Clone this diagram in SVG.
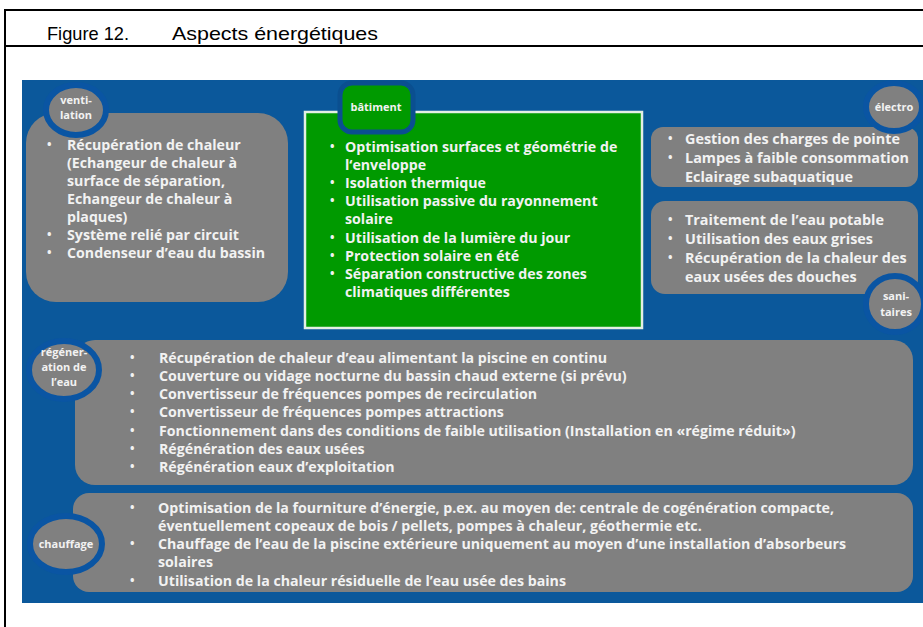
<svg xmlns="http://www.w3.org/2000/svg" width="923" height="627" viewBox="0 0 923 627">
<style>
.frame{stroke:#000;stroke-width:2;fill:none}
.title{font-family:"Liberation Sans",Arial,sans-serif;font-size:18.5px;fill:#000}
.panel{fill:#0b589b}
.box{fill:#808080}
.bubble{fill:#808080;stroke:#0a55a3;stroke-width:6}
.green{fill:#009a00;stroke:#e4efe4;stroke-width:2.5}
.tab{fill:#009a00;stroke:#0a4f90;stroke-width:5}
.t{font-family:"Open Sans","DejaVu Sans",sans-serif;font-weight:bold;font-size:14.2px;fill:#f2f2f2}
.te{font-family:"Open Sans","DejaVu Sans",sans-serif;font-weight:bold;font-size:14.4px;fill:#f2f2f2}
.b{font-family:"Open Sans","DejaVu Sans",sans-serif;font-weight:bold;font-size:12px;fill:#f2f2f2}
.lbl{font-family:"Open Sans","DejaVu Sans",sans-serif;font-weight:bold;font-size:11px;fill:#f2f2f2;text-anchor:middle}
</style>
<rect width="923" height="627" fill="#fff"/>
<g id="frame">
<line class="frame" x1="5" y1="10" x2="923" y2="10"/>
<line class="frame" x1="5" y1="46" x2="923" y2="46"/>
<line class="frame" x1="5" y1="9" x2="5" y2="627"/>
<text class="title" x="47" y="40" textLength="82" lengthAdjust="spacingAndGlyphs">Figure 12.</text>
<text class="title" x="172" y="40" textLength="206" lengthAdjust="spacingAndGlyphs">Aspects énergétiques</text>
</g>
<rect class="panel" x="22" y="80" width="901" height="523"/>
<g id="connectors"></g>

<g id="ventilation">
<rect class="box" x="26" y="113" width="262" height="189" rx="30"/>
<ellipse class="bubble" cx="76" cy="110" rx="30" ry="25"/>
<text class="lbl" x="76" y="104">venti-</text>
<text class="lbl" x="76" y="119">lation</text>
<text class="b" x="47" y="149">•</text><text class="t" x="67" y="150">Récupération de chaleur</text>
<text class="t" x="67" y="168">(Echangeur de chaleur à</text>
<text class="t" x="67" y="186">surface de séparation,</text>
<text class="t" x="67" y="204">Echangeur de chaleur à</text>
<text class="t" x="67" y="222">plaques)</text>
<text class="b" x="47" y="239">•</text><text class="t" x="67" y="240">Système relié par circuit</text>
<text class="b" x="47" y="257">•</text><text class="t" x="67" y="258">Condenseur d’eau du bassin</text>
</g>

<g id="batiment">
<rect class="green" x="305" y="112" width="337" height="216"/>
<rect class="tab" x="340" y="83" width="73" height="49" rx="12"/>
<text class="lbl" x="376" y="111">bâtiment</text>
<text class="b" x="330" y="151">•</text><text class="t" x="345" y="152">Optimisation surfaces et géométrie de</text>
<text class="t" x="345" y="170">l‘enveloppe</text>
<text class="b" x="330" y="187">•</text><text class="t" x="345" y="188">Isolation thermique</text>
<text class="b" x="330" y="205">•</text><text class="t" x="345" y="206">Utilisation passive du rayonnement</text>
<text class="t" x="345" y="224">solaire</text>
<text class="b" x="330" y="242">•</text><text class="t" x="345" y="243">Utilisation de la lumière du jour</text>
<text class="b" x="330" y="260">•</text><text class="t" x="345" y="261">Protection solaire en été</text>
<text class="b" x="330" y="278">•</text><text class="t" x="345" y="279">Séparation constructive des zones</text>
<text class="t" x="345" y="297">climatiques différentes</text>
</g>

<g id="electro">
<rect class="box" x="651" y="127" width="267" height="60" rx="12"/>
<ellipse class="bubble" cx="894" cy="107" rx="28" ry="24"/>
<text class="lbl" x="894" y="111">électro</text>
<text class="b" x="668" y="143">•</text><text class="te" x="685" y="144">Gestion des charges de pointe</text>
<text class="b" x="668" y="162">•</text><text class="te" x="685" y="163">Lampes à faible consommation</text>
<text class="te" x="685" y="182">Eclairage subaquatique</text>
</g>

<g id="sanitaires">
<rect class="box" x="651" y="201" width="267" height="93" rx="14"/>
<ellipse class="bubble" cx="895" cy="304" rx="29" ry="28"/>
<text class="lbl" x="896" y="300">sani-</text>
<text class="lbl" x="896" y="316">taires</text>
<text class="b" x="668" y="224">•</text><text class="te" x="685" y="225">Traitement de l’eau potable</text>
<text class="b" x="668" y="243">•</text><text class="te" x="685" y="244">Utilisation des eaux grises</text>
<text class="b" x="668" y="262">•</text><text class="te" x="685" y="263">Récupération de la chaleur des</text>
<text class="te" x="685" y="282">eaux usées des douches</text>
</g>

<g id="regeneration">
<rect class="box" x="75" y="340" width="838" height="145" rx="20"/>
<ellipse class="bubble" cx="64" cy="370" rx="35" ry="29"/>
<text class="lbl" x="64" y="356">régéner-</text>
<text class="lbl" x="64" y="371">ation de</text>
<text class="lbl" x="64" y="386">l’eau</text>
<text class="b" x="130" y="362">•</text><text class="t" x="159" y="363">Récupération de chaleur d’eau alimentant la piscine en continu</text>
<text class="b" x="130" y="380">•</text><text class="t" x="159" y="381">Couverture ou vidage nocturne du bassin chaud externe (si prévu)</text>
<text class="b" x="130" y="398">•</text><text class="t" x="159" y="399">Convertisseur de fréquences  pompes de recirculation</text>
<text class="b" x="130" y="416">•</text><text class="t" x="159" y="417">Convertisseur de fréquences  pompes attractions</text>
<text class="b" x="130" y="435">•</text><text class="t" x="159" y="436">Fonctionnement dans des conditions de faible utilisation (Installation en «régime réduit»)</text>
<text class="b" x="130" y="453">•</text><text class="t" x="159" y="454">Régénération des eaux usées</text>
<text class="b" x="130" y="471">•</text><text class="t" x="159" y="472">Régénération eaux d’exploitation</text>
</g>

<g id="chauffage">
<rect class="box" x="73" y="493" width="840" height="99" rx="16"/>
<ellipse class="bubble" cx="66" cy="544" rx="36" ry="28"/>
<text class="lbl" x="66" y="548">chauffage</text>
<text class="b" x="130" y="512">•</text><text class="t" x="158" y="513">Optimisation de la fourniture d’énergie, p.ex. au moyen de: centrale de cogénération compacte,</text>
<text class="t" x="158" y="531">éventuellement copeaux de bois / pellets, pompes à chaleur, géothermie etc.</text>
<text class="b" x="130" y="548">•</text><text class="t" x="158" y="549">Chauffage de l’eau de la piscine extérieure uniquement au moyen d’une installation d’absorbeurs</text>
<text class="t" x="158" y="567">solaires</text>
<text class="b" x="130" y="585">•</text><text class="t" x="158" y="586">Utilisation de la chaleur résiduelle de l’eau usée des bains</text>
</g>
</svg>
